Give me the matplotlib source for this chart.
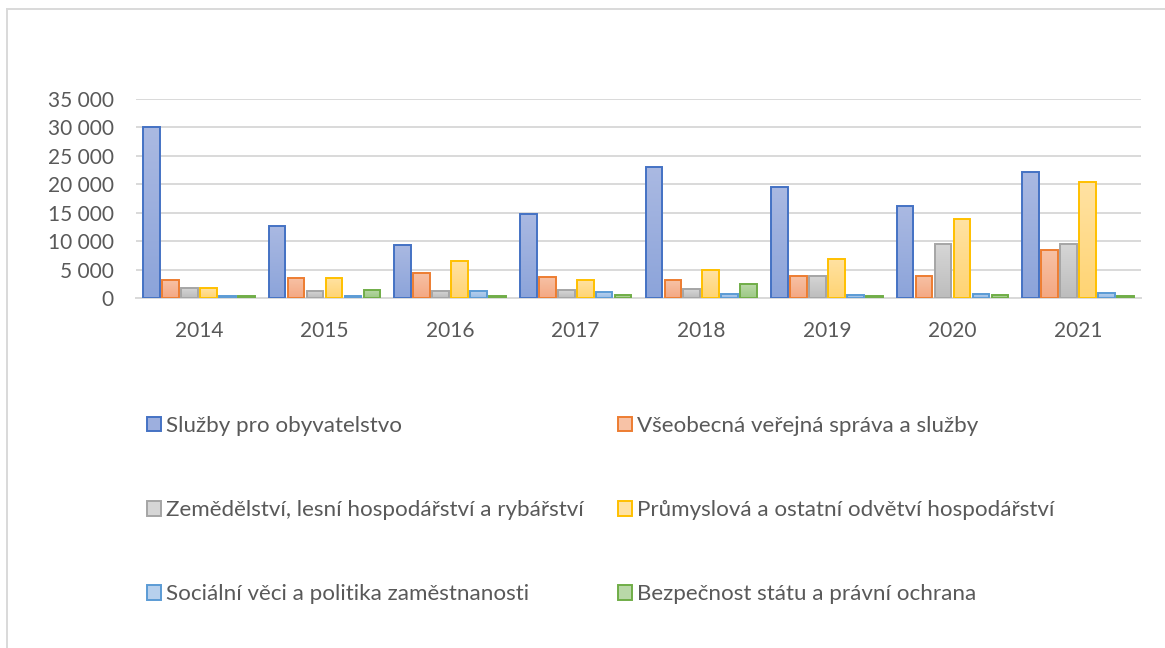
import matplotlib.pyplot as plt
import matplotlib.patches as patches
from matplotlib.lines import Line2D
from matplotlib.colors import LinearSegmentedColormap
from matplotlib.ticker import FuncFormatter
import numpy as np

years = ["2014", "2015", "2016", "2017", "2018", "2019", "2020", "2021"]

series_names = [
    "Služby pro obyvatelstvo",
    "Všeobecná veřejná správa a služby",
    "Zemědělství, lesní hospodářství a rybářství",
    "Průmyslová a ostatní odvětví hospodářství",
    "Sociální věci a politika zaměstnanosti",
    "Bezpečnost státu a právní ochrana",
]

sluzby = [30000, 12700, 9400, 14800, 23000, 19600, 16150, 22100]
sprava = [3300, 3600, 4500, 3800, 3150, 3900, 4000, 8500]
zemedelstvi = [1800, 1350, 1250, 1400, 1550, 4000, 9450, 9450]
prumysl = [1750, 3550, 6500, 3200, 4900, 6850, 13850, 20350]
socialni = [450, 450, 1200, 1050, 750, 550, 750, 850]
bezpecnost = [350, 1500, 400, 500, 2450, 400, 650, 350]

values = [sluzby, sprava, zemedelstvi, prumysl, socialni, bezpecnost]

# edge color, gradient top, gradient bottom
STYLES = [
    ("#4472C4", "#AAB9E2", "#8CA4DA"),
    ("#ED7D31", "#F7C2A6", "#F4A883"),
    ("#A5A5A5", "#D6D6D6", "#BDBDBD"),
    ("#FFC000", "#FFE2A3", "#FFD473"),
    ("#5B9BD5", "#B7D0ED", "#98BCE6"),
    ("#70AD47", "#B9D8A8", "#9DC985"),
]

TEXT = "#595959"
GRID = "#D9D9D9"
FONT = ["Lato", "DejaVu Sans"]

plt.rcParams['font.family'] = FONT

fig = plt.figure(figsize=(11.65, 6.48), dpi=100)
ax = fig.add_axes([136 / 1165, 1 - 298.3 / 648, 1005 / 1165, 199.3 / 648])

x = np.arange(len(years))
pitch = 0.151
width = 0.133
grad = np.linspace(0, 1, 64).reshape(-1, 1)

handles = []
for i, (name, vals) in enumerate(zip(series_names, values)):
    edge, top, bottom = STYLES[i]
    cmap = LinearSegmentedColormap.from_list(f"g{i}", [bottom, top])
    offs = (i - 2.5) * pitch
    bars = ax.bar(x + offs, vals, width, facecolor="none", edgecolor=edge,
                  linewidth=1.4, zorder=3, label=name)
    for b in bars:
        bx, by = b.get_x(), b.get_y()
        bw, bh = b.get_width(), b.get_height()
        im = ax.imshow(grad, cmap=cmap, origin="lower", aspect="auto",
                       extent=(bx, bx + bw, by, by + bh), zorder=2)
        im.set_clip_path(b)
    handles.append(patches.Patch(facecolor=(top if i != 0 else "#9DAFDE"),
                                 edgecolor=edge, linewidth=1.4, label=name))

ax.set_xlim(-0.5, len(years) - 0.5)
ax.set_ylim(0, 35000)
ax.set_yticks(np.arange(0, 35001, 5000))
ax.yaxis.set_major_formatter(FuncFormatter(lambda v, p: f"{int(v):,}".replace(",", " ")))
ax.set_xticks(x)
ax.set_xticklabels(years)

ax.grid(axis="y", color=GRID, linewidth=1.4, zorder=0)
ax.set_axisbelow(True)
for s in ["top", "right", "left"]:
    ax.spines[s].set_visible(False)
ax.spines["bottom"].set_color(GRID)
ax.spines["bottom"].set_linewidth(1.4)
ax.tick_params(axis="both", length=0, colors=TEXT, labelsize=15)
ax.tick_params(axis="y", pad=16)
ax.tick_params(axis="x", pad=16)

order = [0, 2, 4, 1, 3, 5]
leg = fig.legend([handles[k] for k in order], [series_names[k] for k in order],
                 ncol=2, loc="upper left", bbox_to_anchor=(147 / 1165, 1 - 416 / 648),
                 frameon=False, fontsize=16.1, labelcolor=TEXT,
                 handlelength=0.62, handleheight=0.62, handletextpad=0.25,
                 labelspacing=2.87, columnspacing=1.5, borderaxespad=0, borderpad=0)

# chart area border (cropped at right and bottom)
fig.add_artist(Line2D([7 / 1165, 7 / 1165], [0, 1 - 9 / 648], color=GRID, linewidth=1.4,
                      transform=fig.transFigure))
fig.add_artist(Line2D([7 / 1165, 1], [1 - 9 / 648, 1 - 9 / 648], color=GRID, linewidth=1.4,
                      transform=fig.transFigure))

fig.savefig("out.png", dpi=100, facecolor="white")
